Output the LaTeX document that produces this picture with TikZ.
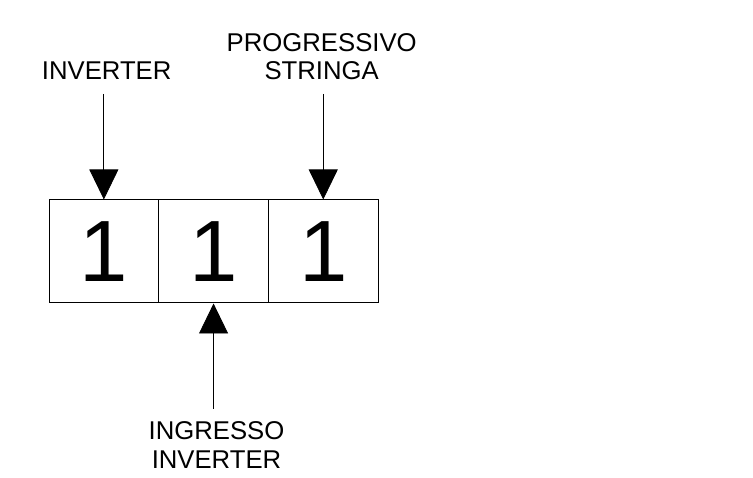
\documentclass[tikz,border=0pt]{standalone}
\usepackage{fontspec}
\setmainfont{Liberation Sans}
\usetikzlibrary{arrows.meta}
\begin{document}
\begin{tikzpicture}[x=1pt,y=-1pt,
  cell/.style={draw=black,line width=1pt,minimum width=109.7pt,minimum height=103pt,inner sep=0pt,
    font=\fontsize{87}{87}\selectfont},
  lbl/.style={align=center,inner sep=0pt,anchor=base,font=\fontsize{25.7}{28.3}\selectfont},
  conn/.style={line width=0.8pt,-{Triangle[width=29pt,length=30pt]}}]
\useasboundingbox (0,0) rectangle (753,478);
\node[cell] (b1) at (103.85,251.5) {1};
\node[cell] (b2) at (213.55,251.5) {1};
\node[cell] (b3) at (323.25,251.5) {1};
\node[lbl] (l1) at (106.7,80) {INVERTER};
\node[lbl] (l2) at (321.7,80) {PROGRESSIVO\\STRINGA};
\node[lbl] (l3) at (216.5,468) {INGRESSO\\INVERTER};
\coordinate (s1) at (103.85,94);
\coordinate (s2) at (323.25,94);
\coordinate (s3) at (213.55,409);
\draw[conn] (s1) -- (b1.north);
\draw[conn] (s2) -- (b3.north);
\draw[conn] (s3) -- (b2.south);
\end{tikzpicture}
\end{document}
